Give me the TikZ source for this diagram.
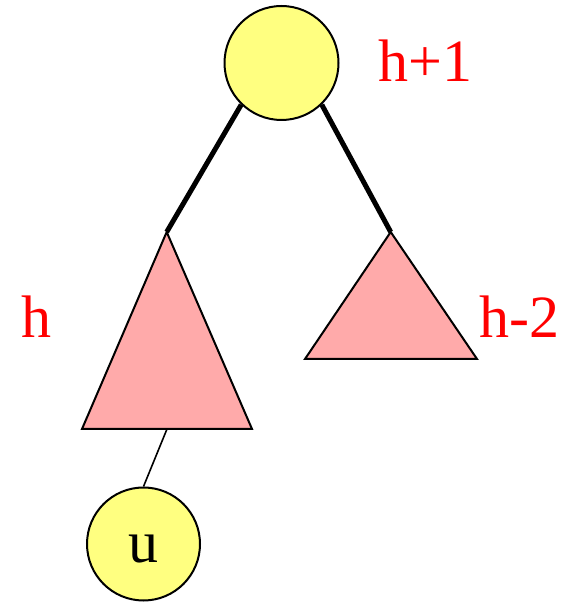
\documentclass[tikz,border=0pt]{standalone}
\usepackage{fontspec}
\setmainfont{Liberation Serif}
\definecolor{nodeyellow}{HTML}{FFFF80}
\definecolor{subpink}{HTML}{FFAAAA}
\definecolor{lblred}{HTML}{FF0000}
\begin{document}
\begin{tikzpicture}[x=1pt,y=1pt,
  treenode/.style={circle,draw=black,line width=2pt,fill=nodeyellow,inner sep=0pt,minimum size=#1},
  subtree/.style={draw=black,line width=2pt,fill=subpink,line join=miter},
  heavyedge/.style={line width=5pt},
  lightedge/.style={line width=1.6pt},
  hlabel/.style={text=lblred,font=\fontsize{60}{60}\selectfont,inner sep=0pt,anchor=base west},
  ulabel/.style={font=\fontsize{60}{60}\selectfont,inner sep=0pt,anchor=base}]
\useasboundingbox (0,0) rectangle (566,602);
% nodes
\node[treenode=114pt] (top) at (281.5,539) {};
\node[treenode=113pt] (u) at (143.5,58) {};
\node[ulabel] (ulab) at (143.5,39) {u};
% subtree corners
\coordinate (lapex) at (166.7,370);
\coordinate (lbl) at (82,173);
\coordinate (lbr) at (252,173);
\coordinate (lbase) at (167,173);
\coordinate (rapex) at (390.7,370);
\coordinate (rbl) at (305,243);
\coordinate (rbr) at (477,243);
% edges
\draw[heavyedge] (top.226) -- (lapex);
\draw[heavyedge] (top.314) -- (rapex);
\draw[lightedge] (lbase) -- (u.90);
% subtrees
\draw[subtree] (lapex) -- (lbl) -- (lbr) -- cycle;
\draw[subtree] (rapex) -- (rbl) -- (rbr) -- cycle;
% labels
\node[hlabel] (ltop) at (378,520) {h+1};
\node[hlabel] (lleft) at (21,264) {h};
\node[hlabel] (lright) at (479,264) {h-2};
\end{tikzpicture}
\end{document}
